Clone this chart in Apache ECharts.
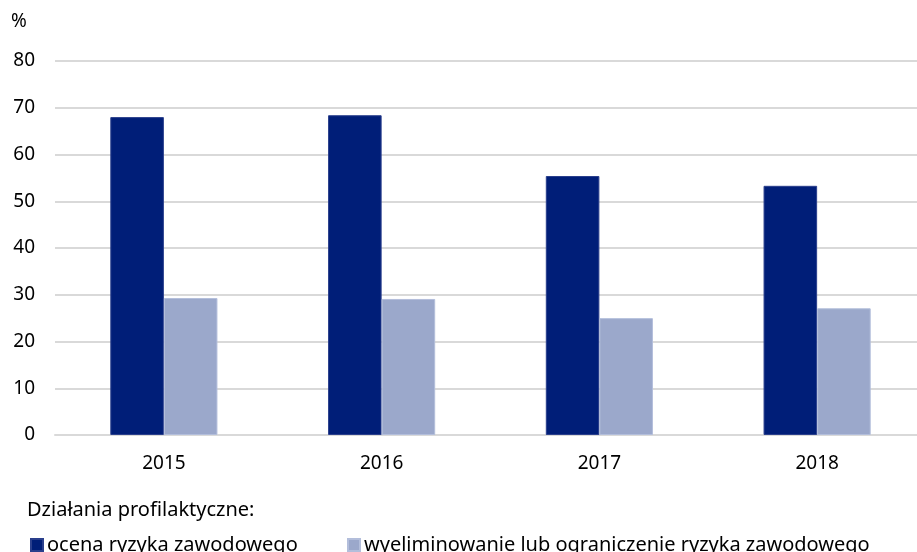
<!DOCTYPE html>
<html>
<head>
<meta charset="utf-8">
<script src="https://cdn.jsdelivr.net/npm/echarts@6/dist/echarts.min.js"></script>
<style>
  html, body { margin: 0; padding: 0; background: #fff; }
  #chart { width: 917px; height: 552px; }
</style>
</head>
<body>
<div id="chart"></div>
<script>
// lata
let years = ['2015', '2016', '2017', '2018']
// ocena ryzyka zawodowego
let ocena = [68.0, 68.4, 55.4, 53.3]
// wyeliminowanie lub ograniczenie ryzyka zawodowego
let wyeliminowanie = [29.3, 29.1, 25.0, 27.1]
let seriesNames = ['ocena ryzyka zawodowego', 'wyeliminowanie lub ograniczenie ryzyka zawodowego']

let myChart = echarts.init(document.getElementById('chart'))

let font = '"Noto Sans", sans-serif'

let option = {
  animation: false,
  backgroundColor: '#fff',
  title: [
    {
      text: '%',
      left: 11,
      top: 12,
      padding: 0,
      textStyle: { fontFamily: font, fontSize: 19, fontWeight: 'normal', color: '#000' }
    },
    {
      text: 'Działania profilaktyczne:',
      left: 27,
      top: 500,
      padding: 0,
      textStyle: { fontFamily: font, fontSize: 20, fontWeight: 'normal', color: '#000' }
    }
  ],
  legend: [
    {
      data: [seriesNames[0]],
      left: 30,
      top: 535,
      padding: 0,
      itemWidth: 12,
      itemHeight: 12,
      itemGap: 4,
      icon: 'rect',
      textStyle: { fontFamily: font, fontSize: 20, color: '#000', padding: [0, 0, 0, -1] }
    },
    {
      data: [seriesNames[1]],
      left: 347,
      top: 535,
      padding: 0,
      itemWidth: 12,
      itemHeight: 12,
      icon: 'rect',
      textStyle: { fontFamily: font, fontSize: 20, color: '#000', padding: [0, 0, 0, -1] }
    }
  ],
  grid: {
    left: 55,
    width: 871,
    top: 61,
    bottom: 117,
    outerBoundsMode: 'none',
    containLabel: false
  },
  xAxis: {
    type: 'category',
    data: years,
    axisTick: { show: false },
    axisLine: { lineStyle: { color: '#d9d9d9', width: 2 } },
    axisLabel: {
      margin: 19,
      fontFamily: font,
      fontSize: 19,
      color: '#000'
    }
  },
  yAxis: {
    type: 'value',
    min: 0,
    max: 80,
    interval: 10,
    axisLine: { show: false },
    axisTick: { show: false },
    splitLine: { lineStyle: { color: '#d9d9d9', width: 2 } },
    axisLabel: {
      margin: 20,
      fontFamily: font,
      fontSize: 19,
      color: '#000'
    }
  },
  series: [
    {
      name: seriesNames[0],
      type: 'bar',
      barWidth: '24.6%',
      barGap: 0,
      itemStyle: { color: '#001e78', borderColor: '#2a3f8c', borderWidth: 1 },
      data: ocena
    },
    {
      name: seriesNames[1],
      type: 'bar',
      barWidth: '24.6%',
      barGap: 0,
      itemStyle: { color: '#9ba8cb', borderColor: '#b3bedb', borderWidth: 1 },
      data: wyeliminowanie
    }
  ]
}

myChart.setOption(option)
</script>
</body>
</html>
